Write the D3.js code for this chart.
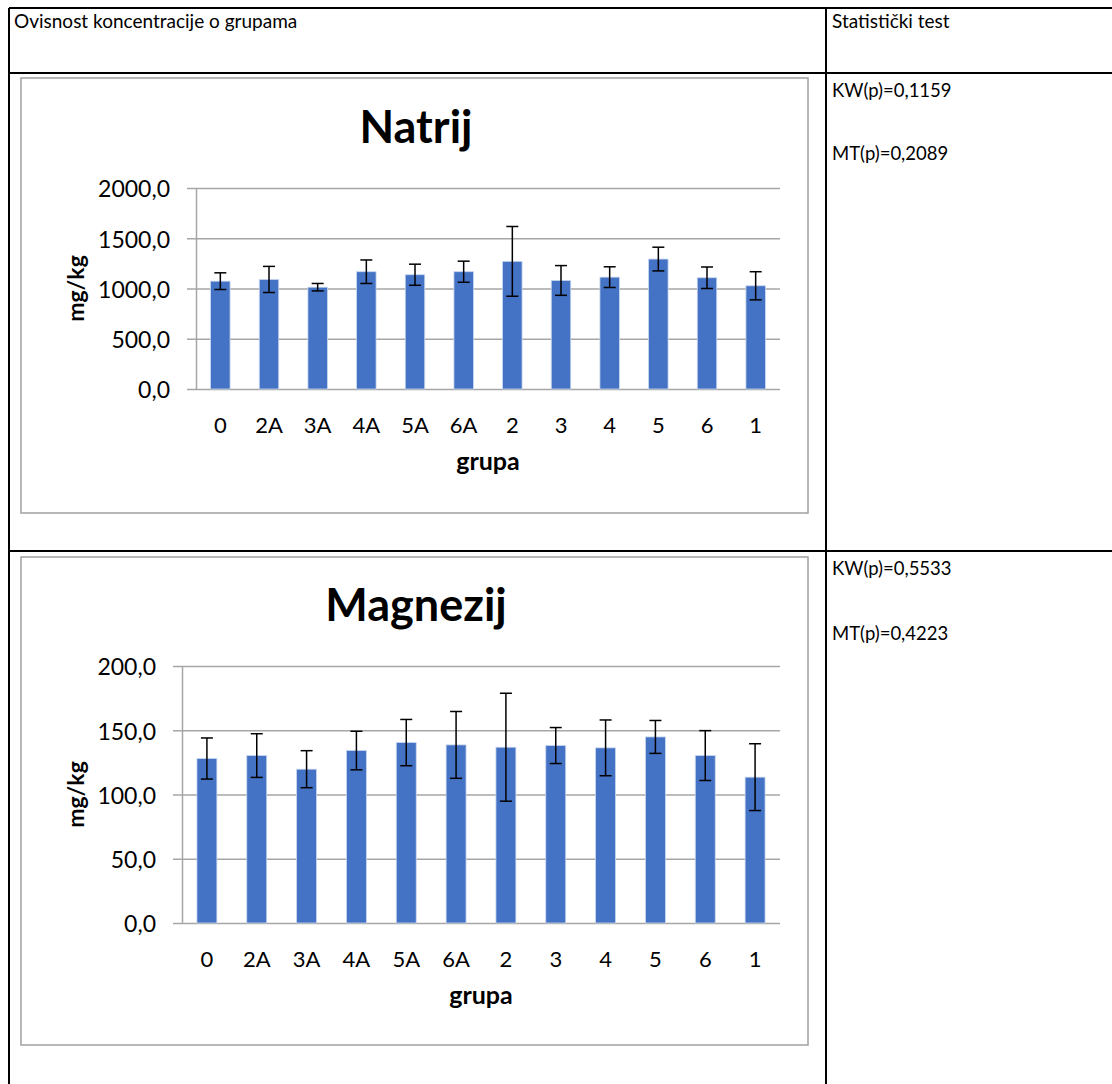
<!DOCTYPE html>
<html>
<head>
<meta charset="utf-8">
<script src="https://cdn.jsdelivr.net/npm/d3@7"></script>
<style>
  body { margin: 0; background: #fff; }
  svg { display: block; }
</style>
</head>
<body>
<svg id="chart" width="1112" height="1084"></svg>
<script>
/* data */
const groups = ["0", "2A", "3A", "4A", "5A", "6A", "2", "3", "4", "5", "6", "1"];

const natrijMean = [1073, 1090, 1013, 1167, 1137, 1167, 1270, 1080, 1113, 1293, 1107, 1027];
const natrijSd = [83, 130, 37, 117, 105, 105, 347, 148, 103, 118, 107, 140];
const natrijTicks = [0, 500, 1000, 1500, 2000];

const magnezijMean = [128.0, 130.3, 119.7, 134.2, 140.4, 138.6, 136.8, 138.1, 136.3, 144.8, 130.3, 113.5];
const magnezijSd = [16, 17, 14.4, 15, 18, 26, 42, 14, 21.7, 12.8, 19.4, 26];
const magnezijTicks = [0, 50, 100, 150, 200];

const headerLabels = ["Ovisnost koncentracije o grupama", "Statistički test"];
const natrijTests = ["KW(p)=0,1159", "MT(p)=0,2089"];
const magnezijTests = ["KW(p)=0,5533", "MT(p)=0,4223"];

const font = "Lato, 'Open Sans', sans-serif";
const barColor = "#4472c4";
const gridColor = "#a6a6a6";

const svg = d3.select("#chart");

/* comma as decimal mark */
const hr = d3.formatLocale({ decimal: ",", thousands: ".", grouping: [3], currency: ["", ""] });
const fmt = hr.format(".1f");

/**
 * Table lines and plain texts
 */
function buildTable() {
    const lines = [
        [9, 8, 1112, 8],
        [9, 73, 1112, 73],
        [9, 551, 1112, 551],
        [9, 8, 9, 1084],
        [826, 8, 826, 1084]
    ];
    svg.selectAll(".tableLine").data(lines)
        .enter()
        .append("line")
        .attr("class", "tableLine")
        .attr("x1", d => d[0]).attr("y1", d => d[1])
        .attr("x2", d => d[2]).attr("y2", d => d[3])
        .style("stroke", "#000")
        .style("stroke-width", 2);

    svg.append("text")
        .attr("x", 14).attr("y", 28)
        .style("font-family", font).style("font-size", "19px")
        .text(headerLabels[0]);
    svg.append("text")
        .attr("x", 832).attr("y", 28)
        .style("font-family", font).style("font-size", "19px")
        .text(headerLabels[1]);

    const tests = [
        { t: natrijTests[0], y: 97 }, { t: natrijTests[1], y: 160 },
        { t: magnezijTests[0], y: 575 }, { t: magnezijTests[1], y: 640 }
    ];
    svg.selectAll(".testLabel").data(tests)
        .enter()
        .append("text")
        .attr("class", "testLabel")
        .attr("x", 832)
        .attr("y", d => d.y)
        .style("font-family", font).style("font-size", "18.5px")
        .text(d => d.t);
}

/**
 * One Excel style bar chart with error bars
 */
function buildChart(opts) {
    const { frame, title, titleY, axisX, plotRight, plotTop, plotBottom, means, sds, ticks } = opts;

    /* chart frame */
    svg.append("rect")
        .attr("x", frame[0]).attr("y", frame[1])
        .attr("width", frame[2] - frame[0]).attr("height", frame[3] - frame[1])
        .style("fill", "#fff")
        .style("stroke", "#a0a0a0")
        .style("stroke-width", 1.5);

    const g = svg.append("g");

    var x = d3.scaleBand()
        .domain(groups)
        .range([axisX, plotRight])
        .paddingInner(0.6)
        .paddingOuter(0.3);

    var y = d3.scaleLinear()
        .domain([ticks[0], ticks[ticks.length - 1]])
        .range([plotBottom, plotTop]);

    /* y axis with gridlines */
    g.append("g")
        .attr("transform", "translate(" + axisX + ",0)")
        .call(d3.axisLeft(y)
            .tickValues(ticks)
            .tickFormat(fmt)
            .tickSizeInner(-(plotRight - axisX))
            .tickSizeOuter(0)
            .tickPadding(26))
        .call(a => a.select(".domain").style("stroke", gridColor).style("stroke-width", 1.5))
        .call(a => a.selectAll(".tick line")
            .attr("x1", -9)
            .style("stroke", gridColor)
            .style("stroke-width", 1.5))
        .call(a => a.selectAll(".tick text")
            .attr("dy", "0.38em")
            .style("fill", "#000")
            .style("font-family", font)
            .style("font-size", "23px"));

    /* x axis labels */
    g.append("g")
        .attr("transform", "translate(0," + plotBottom + ")")
        .call(d3.axisBottom(x).tickSize(0).tickPadding(28))
        .call(a => a.select(".domain").remove())
        .call(a => a.selectAll(".tick text")
            .style("fill", "#000")
            .style("font-family", font)
            .style("font-size", "22px"));

    /* bars */
    const data = groups.map((k, i) => ({ k: k, m: means[i], s: sds[i] }));
    g.selectAll(".bar").data(data)
        .enter()
        .append("rect")
        .attr("class", "bar")
        .attr("x", d => x(d.k))
        .attr("width", x.bandwidth())
        .attr("y", d => y(d.m))
        .attr("height", d => y(0) - y(d.m))
        .style("fill", barColor)
        .style("stroke", "#c9d6ef")
        .style("stroke-width", 0.8);

    /* error bars */
    const err = g.selectAll(".err").data(data).enter().append("g").attr("class", "err");
    err.append("line")
        .attr("x1", d => x(d.k) + x.bandwidth() / 2)
        .attr("x2", d => x(d.k) + x.bandwidth() / 2)
        .attr("y1", d => y(d.m + d.s))
        .attr("y2", d => y(d.m - d.s));
    err.append("line")
        .attr("x1", d => x(d.k) + x.bandwidth() / 2 - 6)
        .attr("x2", d => x(d.k) + x.bandwidth() / 2 + 6)
        .attr("y1", d => y(d.m + d.s))
        .attr("y2", d => y(d.m + d.s));
    err.append("line")
        .attr("x1", d => x(d.k) + x.bandwidth() / 2 - 6)
        .attr("x2", d => x(d.k) + x.bandwidth() / 2 + 6)
        .attr("y1", d => y(d.m - d.s))
        .attr("y2", d => y(d.m - d.s));
    err.selectAll("line")
        .style("stroke", "#000")
        .style("stroke-width", 1.5);

    /* title */
    g.append("text")
        .attr("x", 416)
        .attr("y", titleY)
        .attr("text-anchor", "middle")
        .style("font-family", font)
        .style("font-weight", "700")
        .style("font-size", "45px")
        .text(title);

    /* axis titles */
    g.append("text")
        .attr("transform", "translate(84," + ((plotTop + plotBottom) / 2) + ") rotate(-90)")
        .attr("text-anchor", "middle")
        .style("font-family", font)
        .style("font-weight", "700")
        .style("font-size", "23px")
        .text("mg/kg");

    g.append("text")
        .attr("x", (axisX + plotRight) / 2)
        .attr("y", plotBottom + 81)
        .attr("text-anchor", "middle")
        .style("font-family", font)
        .style("font-weight", "700")
        .style("font-size", "25px")
        .text("grupa");
}

buildTable();

buildChart({
    frame: [21, 78, 808, 513],
    title: "Natrij",
    titleY: 143,
    axisX: 196,
    plotRight: 780,
    plotTop: 188,
    plotBottom: 389,
    means: natrijMean,
    sds: natrijSd,
    ticks: natrijTicks
});

buildChart({
    frame: [21, 557, 808, 1045],
    title: "Magnezij",
    titleY: 621,
    axisX: 182,
    plotRight: 780,
    plotTop: 666,
    plotBottom: 923,
    means: magnezijMean,
    sds: magnezijSd,
    ticks: magnezijTicks
});
</script>
</body>
</html>
